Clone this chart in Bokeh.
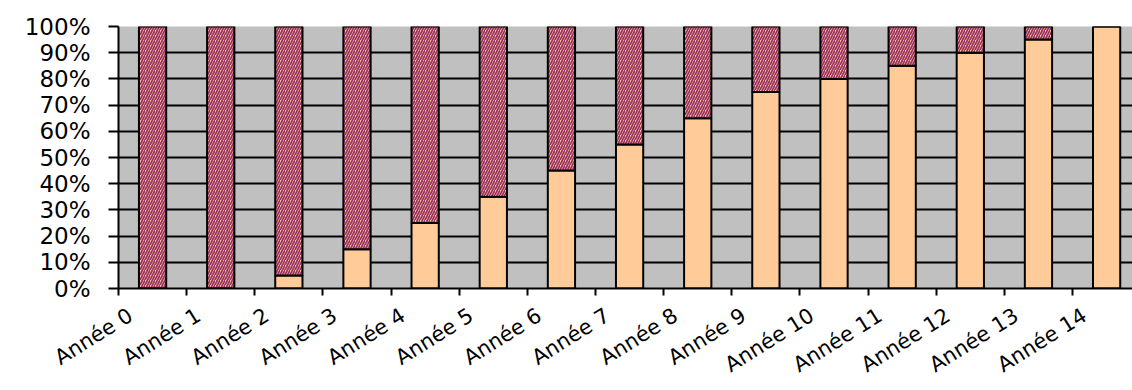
from bokeh.plotting import figure
from bokeh.models import ColumnDataSource, Range1d, FixedTicker, LinearAxis
from bokeh.embed import file_html
from bokeh.resources import INLINE

# Years and the share (in %) reached each year; the remainder is shown hatched
years = ["Année 0", "Année 1", "Année 2", "Année 3", "Année 4", "Année 5", "Année 6",
         "Année 7", "Année 8", "Année 9", "Année 10", "Année 11", "Année 12",
         "Année 13", "Année 14"]
acquis = [0, 0, 5, 15, 25, 35, 45, 55, 65, 75, 80, 85, 90, 95, 100]
restant = [100 - a for a in acquis]
y_ticks = [0, 10, 20, 30, 40, 50, 60, 70, 80, 90, 100]
y_labels = [f"{t}%" for t in y_ticks]

# each bar sits in the middle of its year slot
xpos = [i + 0.5 for i in range(len(years))]
source = ColumnDataSource(dict(
    x=xpos,
    acquis=acquis,
    total=[a + r for a, r in zip(acquis, restant)],
))

FONT = "DejaVu Sans"
X_END = 14.88
LABEL_SHIFT = 0.176  # year labels sit slightly right of their tick

p = figure(width=1132, height=390, output_backend="svg", toolbar_location=None,
           x_range=Range1d(0, X_END), y_range=Range1d(0, 100),
           x_axis_location=None,
           min_border_left=118, min_border_top=26, min_border_bottom=101,
           min_border_right=0)

p.background_fill_color = "#C0C0C0"
p.border_fill_color = "white"
p.outline_line_color = None

# lower part: reached share
p.vbar(x="x", width=0.4, bottom=0, top="acquis", source=source,
       fill_color="#FFCC99", line_color="black", line_width=2)
# upper part: remaining share, hatched
p.vbar(x="x", width=0.4, bottom="acquis", top="total", source=source,
       fill_color="#FFCC99", hatch_pattern="/", hatch_color="#993366",
       hatch_scale=5, hatch_weight=1.7,
       line_color="black", line_width=2)

# y axis
p.yaxis.ticker = FixedTicker(ticks=y_ticks)
p.yaxis.major_label_overrides = {t: l for t, l in zip(y_ticks, y_labels)}
p.yaxis.major_tick_out = 10
p.yaxis.major_tick_in = 0
p.yaxis.minor_tick_out = 0
p.yaxis.minor_tick_in = 0
p.yaxis.major_tick_line_width = 2
p.yaxis.axis_line_width = 2
p.yaxis.major_label_standoff = 18
p.yaxis.major_label_text_font = FONT
p.yaxis.major_label_text_font_size = "23px"
p.yaxis.major_label_text_color = "black"

# x axis line with tick marks on the year boundaries (drawn as minor ticks, no labels)
x_ticks = list(range(len(years)))
tick_axis = LinearAxis(ticker=FixedTicker(ticks=[], minor_ticks=x_ticks),
                       axis_line_width=2, axis_line_color="black",
                       minor_tick_out=7, minor_tick_in=0,
                       minor_tick_line_width=2, minor_tick_line_color="black",
                       major_label_standoff=0)
p.add_layout(tick_axis, "below")

# year labels, on a range offset a few pixels to the right of the ticks
p.extra_x_ranges = {"labels": Range1d(-LABEL_SHIFT, X_END - LABEL_SHIFT)}
label_axis = LinearAxis(x_range_name="labels", ticker=FixedTicker(ticks=x_ticks),
                        major_label_overrides={t: l for t, l in zip(x_ticks, years)},
                        axis_line_color=None, major_tick_line_color=None,
                        major_tick_out=0, major_tick_in=0,
                        minor_tick_out=0, minor_tick_in=0,
                        major_label_orientation=0.56, major_label_standoff=18,
                        major_label_text_font=FONT, major_label_text_font_size="21px",
                        major_label_text_color="black")
p.add_layout(label_axis, "below")

p.xgrid.grid_line_color = None
p.ygrid.ticker = FixedTicker(ticks=y_ticks)
p.ygrid.grid_line_color = "black"
p.ygrid.grid_line_width = 2

open("out.html", "w").write(file_html(p, INLINE))
